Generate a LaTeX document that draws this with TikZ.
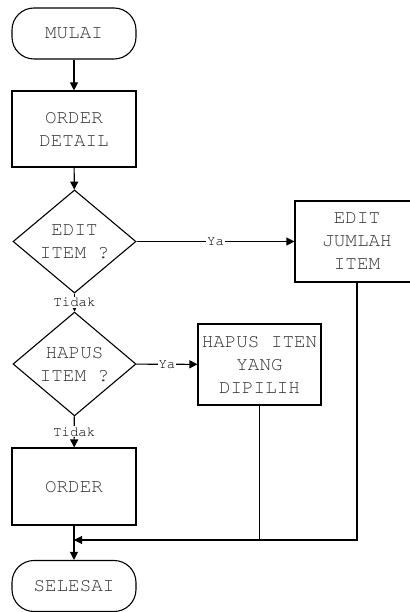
\documentclass[tikz,border=0pt]{standalone}
\usepackage[T1]{fontenc}
\renewcommand{\ttdefault}{pcr}
\usetikzlibrary{shapes.geometric,arrows.meta}
\definecolor{txt}{gray}{0.2}
\tikzset{
  every node/.style={font=\ttfamily\fontsize{19.2}{23}\selectfont, text=txt, align=center},
  terminal/.style={draw, line width=1.1pt, rounded corners=22pt, minimum width=124pt, minimum height=51pt, inner sep=0pt},
  process/.style={draw, line width=1.1pt, minimum width=124pt, inner sep=0pt},
  decision/.style={draw, line width=1.1pt, shape=diamond, minimum width=123pt, minimum height=77pt, inner sep=0pt},
  flow/.style={line width=1.1pt, -{Triangle[length=8pt,width=8pt]}},
  plain/.style={line width=1.1pt},
  lbl/.style={font=\ttfamily\fontsize{14}{15}\selectfont, fill=white, inner sep=1pt, text=black}
}
\begin{document}
\begin{tikzpicture}[x=1pt,y=-1pt]
  \useasboundingbox (0,0) rectangle (409,612);

  % flowchart blocks
  \node[terminal] (mulai) at (74,33.5) {MULAI};
  \node[process, minimum height=76pt] (detail) at (74,129) {ORDER\\DETAIL};
  \node[decision] (edit) at (74.5,241.5) {EDIT\\ITEM ?};
  \node[process, minimum height=81pt] (jumlah) at (357,241.5) {EDIT\\JUMLAH\\ITEM};
  \node[decision] (hapus) at (74.5,364) {HAPUS\\ITEM ?};
  \node[process, minimum width=123pt, minimum height=81pt] (hapusbox) at (259.5,364.5) {HAPUS ITEN\\YANG\\DIPILIH};
  \node[process, minimum height=77pt] (order) at (74,486.5) {ORDER};
  \node[terminal] (selesai) at (74,586) {SELESAI};

  % point where the side branches rejoin the main line
  \coordinate (join) at (74,540);

  % connectors
  \draw[flow] (mulai) -- (detail);
  \draw[flow] (detail) -- (edit);
  \draw[flow] (edit) -- node[lbl] {Ya} (jumlah);
  \draw[flow] (edit) -- node[lbl] {Tidak} (hapus);
  \draw[flow] (hapus) -- node[lbl] {Ya} (hapusbox);
  \draw[flow] (hapus) -- node[lbl] {Tidak} (order);
  \draw[flow] (order) -- (selesai);
  \draw[flow] (jumlah.south) |- (join);
  \draw[plain] (hapusbox.south) -- (hapusbox.south |- join);
\end{tikzpicture}
\end{document}
